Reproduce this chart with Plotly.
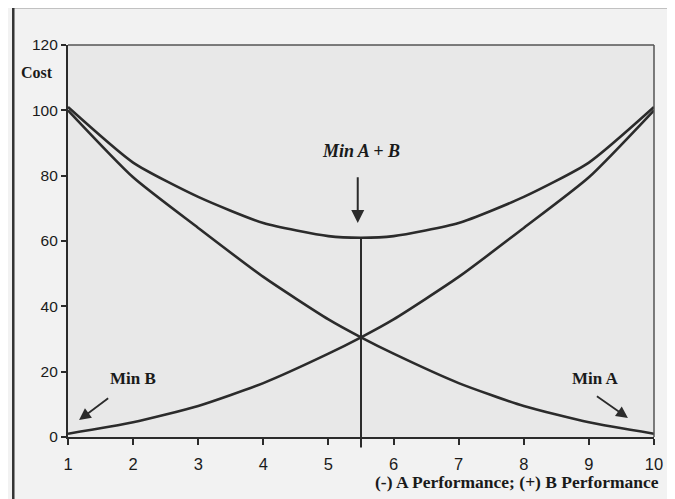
import plotly.graph_objects as go

# Data
x_vals = [1, 2, 3, 4, 5, 5.5, 6, 7, 8, 9, 10]
cost_a = [100, 79.5, 64, 49, 36, 30.5, 25.5, 16.5, 9.5, 4.5, 1]
cost_b = [1, 4.5, 9.5, 16.5, 25.5, 30.5, 36, 49, 64, 79.5, 100]
cost_total = [101, 84, 73.5, 65.5, 61.5, 61, 61.5, 65.5, 73.5, 84, 101]
x_ticks = [1, 2, 3, 4, 5, 6, 7, 8, 9, 10]
y_ticks = [0, 20, 40, 60, 80, 100, 120]
min_x = 5.5
min_total = 61

LINE = "#2b2b2b"
TEXT = "#1a1a1a"
SERIF = "Liberation Serif, Times New Roman, serif"
SANS = "Liberation Sans, Arial, sans-serif"

fig = go.Figure()
for ys in (cost_a, cost_b, cost_total):
    fig.add_trace(go.Scatter(x=x_vals, y=ys, mode="lines",
                             line=dict(color=LINE, width=2.6, shape="spline", smoothing=0.6),
                             showlegend=False, hoverinfo="skip"))

# vertical line at the minimum of the total
fig.add_trace(go.Scatter(x=[min_x, min_x], y=[0, min_total], mode="lines",
                         line=dict(color=LINE, width=2), showlegend=False,
                         hoverinfo="skip", cliponaxis=False))

shapes = [
    dict(type="line", xref="x", yref="paper", x0=min_x, x1=min_x, y0=-0.027, y1=0,
         line=dict(color=LINE, width=2)),
    dict(type="line", xref="paper", yref="paper", x0=0, x1=1, y0=1, y1=1,
         line=dict(color="#555", width=1.5)),
    dict(type="line", xref="paper", yref="paper", x0=1, x1=1, y0=0, y1=1,
         line=dict(color="#555", width=1.5)),
    dict(type="line", xref="paper", yref="paper", x0=-0.0934, x1=1.05, y0=1.097, y1=1.097,
         line=dict(color="#333", width=2.5)),
    dict(type="line", xref="paper", yref="paper", x0=-0.0934, x1=-0.0934, y0=-0.17, y1=1.097,
         line=dict(color="#333", width=2.5)),
]

annotations = [
    dict(text="<b>Cost</b>", xref="paper", yref="paper", x=-0.022, y=0.929,
         xanchor="right", yanchor="middle", showarrow=False,
         font=dict(family=SERIF, size=16, color=TEXT)),
    dict(text="<b><i>Min A + B</i></b>", xref="x", yref="y", x=5.5, y=87.5,
         xanchor="center", yanchor="middle", showarrow=False,
         font=dict(family=SERIF, size=18, color=TEXT)),
    dict(text="<b>Min B</b>", xref="x", yref="y", x=2.0, y=18,
         xanchor="center", yanchor="middle", showarrow=False,
         font=dict(family=SERIF, size=17, color=TEXT)),
    dict(text="<b>Min A</b>", xref="x", yref="y", x=9.1, y=18,
         xanchor="center", yanchor="middle", showarrow=False,
         font=dict(family=SERIF, size=17, color=TEXT)),
    dict(x=5.45, y=65.5, ax=5.45, ay=80, xref="x", yref="y", axref="x", ayref="y",
         text="", showarrow=True, arrowhead=2, arrowsize=1.3, arrowwidth=2, arrowcolor=LINE),
    dict(x=1.17, y=5.2, ax=1.64, ay=12.2, xref="x", yref="y", axref="x", ayref="y",
         text="", showarrow=True, arrowhead=2, arrowsize=1.3, arrowwidth=1.8, arrowcolor=LINE),
    dict(x=9.6, y=5.8, ax=9.1, ay=12.8, xref="x", yref="y", axref="x", ayref="y",
         text="", showarrow=True, arrowhead=2, arrowsize=1.3, arrowwidth=1.8, arrowcolor=LINE),
    dict(text="<b>(-) A Performance; (+) B Performance</b>", xref="paper", yref="paper",
         x=1.012, y=-0.115, xanchor="right", yanchor="middle", showarrow=False,
         font=dict(family=SERIF, size=17.5, color=TEXT)),
]

# The page body has an 8px margin, so the figure is 8px smaller and the
# plot area is placed so that it lands where the reference has it.
fig.update_layout(
    width=667, height=491,
    margin=dict(l=60, r=18, t=37, b=62),
    paper_bgcolor="#f2f2f2",
    plot_bgcolor="#e8e8e8",
    shapes=shapes,
    annotations=annotations,
    xaxis=dict(range=[1, 10], tickvals=x_ticks, ticks="outside", ticklen=6,
               tickwidth=1.5, tickcolor=LINE, showline=True, linecolor=LINE, linewidth=2.2,
               showgrid=False, zeroline=False, ticklabelstandoff=5,
               tickfont=dict(family=SANS, size=16.5, color=TEXT)),
    yaxis=dict(range=[0, 120], tickvals=y_ticks, ticks="outside", ticklen=5,
               tickwidth=1.5, tickcolor=LINE, showline=True, linecolor=LINE, linewidth=2.2,
               showgrid=False, zeroline=False,
               tickfont=dict(family=SANS, size=15.5, color=TEXT)),
)

fig.write_html("out.html")
